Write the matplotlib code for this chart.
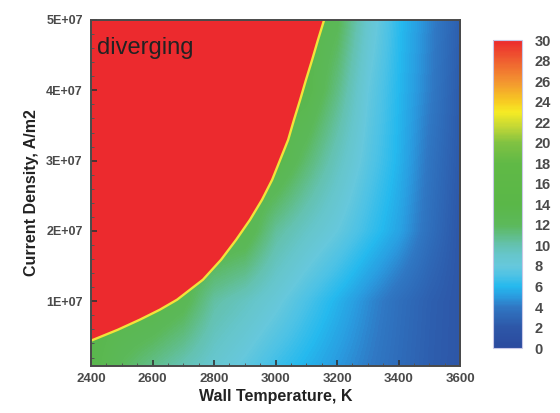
import numpy as np
import matplotlib
matplotlib.use("Agg")
import matplotlib.pyplot as plt
from matplotlib.colors import LinearSegmentedColormap, Normalize
from matplotlib.cm import ScalarMappable

plt.rcParams["font.family"] = ["Liberation Sans", "DejaVu Sans"]

# wall temperature (K) and current density (A/m2) grid
temps = [2400, 2500, 2600, 2700, 2800, 2900, 3000, 3100, 3200, 3300, 3400, 3500, 3600]
dens = [0e7, 1e7, 2e7, 3e7, 4e7, 5e7]

# field values (cells left of the boundary are hidden by the red zone)
H = 13.5
field = [
    [13.5, 11.8, 10.6, 9.6, 8.6, 7.6, 6.5, 5.7, 4.9, 4.1, 3.3, 2.5, 2.0],
    [H, H, H, 12.5, 10.3, 9.4, 8.3, 7.0, 5.8, 4.6, 3.5, 2.6, 2.0],
    [H, H, H, H, H, 13.0, 10.5, 9.2, 8.0, 6.6, 5.3, 3.5, 2.0],
    [H, H, H, H, H, H, H, 11.5, 9.5, 7.5, 5.8, 3.8, 2.2],
    [H, H, H, H, H, H, H, 13.5, 11.0, 8.0, 6.0, 4.2, 2.3],
    [H, H, H, H, H, H, H, H, 12.3, 8.8, 6.2, 4.4, 2.5],
]

# edge of the diverging region
edge_dens = [0.440e7, 0.597e7, 0.739e7, 0.881e7, 1.023e7, 1.307e7, 1.591e7, 1.875e7, 2.159e7,
             2.443e7, 2.727e7, 3.011e7, 3.295e7, 3.580e7, 3.864e7, 4.148e7, 4.432e7, 4.716e7, 5.0e7]
edge_temp = [2400, 2488, 2559, 2624, 2680, 2764, 2823, 2872, 2917,
             2956, 2989, 3015, 3041, 3060, 3080, 3099, 3119, 3138, 3158]

x_ticks = [2400, 2600, 2800, 3000, 3200, 3400, 3600]
y_ticks = [1e7, 2e7, 3e7, 4e7, 5e7]
y_labels = ["1E+07", "2E+07", "3E+07", "4E+07", "5E+07"]
cb_ticks = list(range(0, 31, 2))

# tecplot-like rainbow
stops = [
    (0, "#2b4a9e"), (2, "#2d57a8"), (4, "#3078c4"), (5, "#2a9ce0"), (6, "#25b9ee"),
    (7, "#4cc2e6"), (8, "#66c8dc"), (9, "#66c6cc"), (10, "#64c2b0"), (11, "#60bd84"),
    (12, "#5cb95a"), (14, "#5ab748"), (18, "#60b946"), (20, "#80c242"), (21.5, "#c0d636"),
    (23, "#f6eb24"), (24, "#f7cc22"), (26, "#f39430"), (28, "#ef6030"), (30, "#ec2a2e"),
]
cmap = LinearSegmentedColormap.from_list("tec", [(v / 30, c) for v, c in stops])
norm = Normalize(0, 30)

fig = plt.figure(figsize=(5.6, 4.13), dpi=100)
ax = fig.add_axes([0.1625, 0.1138, 0.6590, 0.8378])

dT = temps[1] - temps[0]
dJ = dens[1] - dens[0]
ax.imshow(np.array(field), cmap=cmap, norm=norm, origin="lower", aspect="auto",
          interpolation="bilinear",
          extent=[temps[0] - dT / 2, temps[-1] + dT / 2, dens[0] - dJ / 2, dens[-1] + dJ / 2])

# diverging zone
ax.fill_betweenx(edge_dens, temps[0], edge_temp, color="#ec2a2e", lw=0)
ax.plot(edge_temp, edge_dens, color="#f2e43a", lw=1.7, solid_capstyle="butt")

ax.set_xlim(2400, 3600)
ax.set_ylim(0.08e7, 5e7)
ax.set_xticks(x_ticks)
ax.set_yticks(y_ticks)
ax.set_yticklabels(y_labels)
ax.minorticks_on()
ax.tick_params(which="major", direction="in", length=4, width=1.2, color="#333333",
               labelsize=9, labelcolor="#4a4a4a", pad=6)
ax.tick_params(which="minor", direction="in", length=2, width=0.7, color="#555555")
ax.tick_params(axis="x", labelsize=9.5, pad=5)
for lab in ax.get_xticklabels() + ax.get_yticklabels():
    lab.set_fontweight("bold")
for s in ax.spines.values():
    s.set_color("#4a4a4a")
    s.set_linewidth(1.4)

ax.set_xlabel("Wall Temperature, K", fontsize=11.5, fontweight="bold", color="#222222", labelpad=3)
ax.set_ylabel("Current Density, A/m2", fontsize=11.5, fontweight="bold", color="#222222", labelpad=5)

ax.text(0.016, 0.952, "diverging", transform=ax.transAxes, fontsize=17,
        color="#222222", ha="left", va="top")

# colorbar
cax = fig.add_axes([0.880, 0.157, 0.052, 0.746])
cb = fig.colorbar(ScalarMappable(norm=norm, cmap=cmap), cax=cax, ticks=cb_ticks)
cb.outline.set_edgecolor("#c8c8e8")
cb.outline.set_linewidth(0.8)
cax.tick_params(length=0, labelsize=10.5, labelcolor="#4a4a4a", pad=9)
for lab in cax.get_yticklabels():
    lab.set_fontweight("bold")

fig.savefig("out.png", dpi=100)
